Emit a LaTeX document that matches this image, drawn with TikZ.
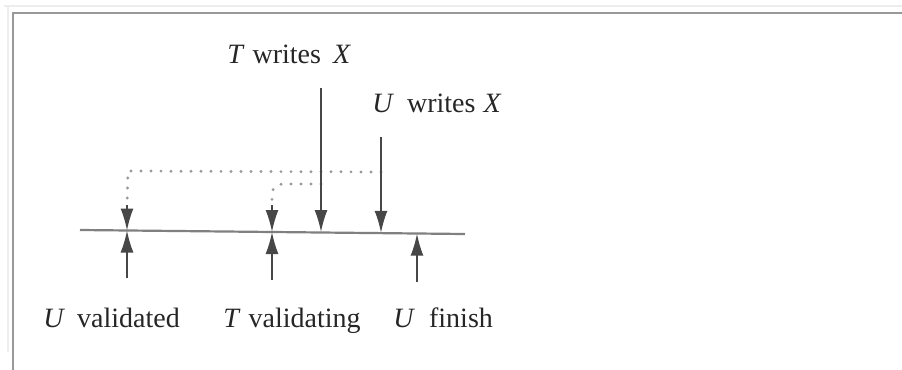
\documentclass[tikz,border=0pt]{standalone}
\usepackage{fontspec}
\setmainfont{Liberation Serif}
\usetikzlibrary{arrows.meta}
\begin{document}
\begin{tikzpicture}[x=0.5pt,y=-0.5pt,
  lbl/.style={anchor=base west, inner sep=0pt, font=\fontsize{14}{16}\selectfont, text=black!85},
  tipd/.style={-{Latex[length=11pt,width=6.5pt]}, draw=black!72, fill=black!85, line width=0.8pt},
  tl/.style={draw=black!50, line width=1.1pt},
  dots/.style={draw=black!40, line width=1.6pt, line cap=round, dash pattern=on 0pt off 5pt}
]
\useasboundingbox (0,0) rectangle (902,370);
% frame
\draw[black!7, line width=1pt] (4,6) -- (902,6);
\draw[black!7, line width=1pt] (8,6) -- (8,352);
\draw[black!40, line width=1pt] (13,370) -- (13,13) -- (902,13);

% timeline
\coordinate (L) at (80,230);
\coordinate (R) at (465,234);
\draw[tl] (L) -- (R);

% points on timeline
\coordinate (uvA) at (127,230.5);
\coordinate (tvA) at (272,232);
\coordinate (twA) at (321,232);
\coordinate (uwA) at (381,232.8);
\coordinate (ufA) at (417,233.7);

% top starts
\coordinate (twS) at (321,88);
\coordinate (uwS) at (381,137);
% bottom starts
\coordinate (uvB) at (127,278);
\coordinate (tvB) at (272,280);
\coordinate (ufB) at (417,282);

% dotted dependencies
\coordinate (d1a) at (381,172);
\coordinate (d1b) at (128,171);
\coordinate (d1c) at (127,205);
\coordinate (d2a) at (321,184);
\coordinate (d2b) at (272,184);
\coordinate (d2c) at (272,205);
\draw[dots] (d1a) -- (d1b) -- (d1c);
\draw[dots, rounded corners=5pt] (d2a) -- (d2b) -- (d2c);

% arrows
\draw[tipd] (d1c) -- (uvA);
\draw[tipd] (d2c) -- (tvA);
\draw[tipd] (twS) -- (twA);
\draw[tipd] (uwS) -- (uwA);
\draw[tipd] (uvB) -- (uvA);
\draw[tipd] (tvB) -- (tvA);
\draw[tipd] (ufB) -- (ufA);

% labels
\node[lbl] (tw) at (227,63) {\textit{T}\hspace{4pt}writes\hspace{6pt}\textit{X}};
\node[lbl] (uw) at (372,112) {\textit{U}\hspace{6.5pt}writes\hspace{4pt}\textit{X}};
\node[lbl] (uv) at (43,327) {\textit{U}\hspace{6pt}validated};
\node[lbl] (tv) at (223,327) {\textit{T}\hspace{4pt}validating};
\node[lbl] (uf) at (393,327) {\textit{U}\hspace{7pt}finish};
\end{tikzpicture}
\end{document}
